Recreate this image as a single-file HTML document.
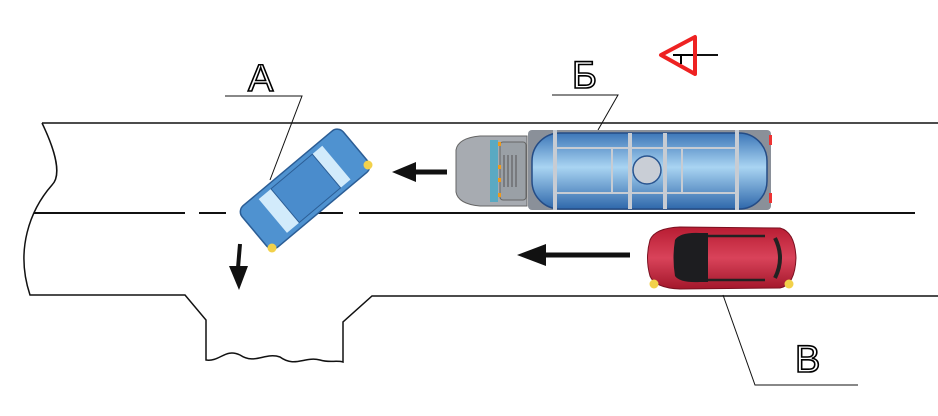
<!DOCTYPE html>
<html><head><meta charset="utf-8"><style>
html,body{margin:0;padding:0;background:#fff;width:938px;height:416px;overflow:hidden}
svg{display:block}
.lbl{font-family:"Liberation Sans",sans-serif;font-size:38px;fill:#fff;stroke:#000;stroke-width:1.6px}
</style></head><body>
<svg width="938" height="416" viewBox="0 0 938 416">
<defs>
<linearGradient id="tank" x1="0" y1="0" x2="0" y2="1">
<stop offset="0" stop-color="#3d77b8"/><stop offset="0.45" stop-color="#a9d4f2"/><stop offset="1" stop-color="#2f68ab"/></linearGradient>
<linearGradient id="red" x1="0" y1="0" x2="0" y2="1">
<stop offset="0" stop-color="#b81c32"/><stop offset="0.5" stop-color="#d9435a"/><stop offset="1" stop-color="#a3172b"/></linearGradient>
</defs>
<g fill="none" stroke="#111" stroke-width="1.5">
<line x1="42" y1="123" x2="938" y2="123"/>
<path d="M42,123 C55,150 62,175 52,185 C30,210 15,250 30,295 L185,295 L206,320 L206,360 C220,362 225,348 240,355 C255,365 265,352 280,357 C295,368 305,356 320,360 C330,363 336,360 343,362 L343,322 L372,296 L938,296"/>
<path d="M34,213 L185,213 M199,213 L226,213 M316,213 L343,213 M359,213 L915,213" stroke-width="2"/>
<path d="M225,96 L302,96 L270,180" stroke-width="1"/>
<path d="M552,95 L618,95 L598,130" stroke-width="1"/>
<path d="M723,295 L755,385 L858,385" stroke-width="1"/>
<line x1="697" y1="55" x2="718" y2="55" stroke-width="2"/>
</g>
<!-- sign -->
<path d="M661,55 L695,37 L695,74 Z" fill="#fff" stroke="#e22" stroke-width="4" stroke-linejoin="round"/>
<path d="M673,55 L693,55 M681,55 L681,64" stroke="#000" stroke-width="2"/>
<!-- labels -->
<text x="248" y="91" class="lbl">А</text>
<text x="572" y="88" class="lbl">Б</text>
<text x="795" y="372" class="lbl">В</text>
<!-- arrows -->
<path d="M447,172 L415,172" stroke="#111" stroke-width="5"/><path d="M392,172 L416,162 L416,182 Z" fill="#111"/>
<path d="M630,255 L545,255" stroke="#111" stroke-width="5"/><path d="M517,255 L546,244 L546,266 Z" fill="#111"/>
<path d="M240,244 L238,268" stroke="#111" stroke-width="4"/><path d="M229,266 L248,266 L239,290 Z" fill="#111"/>
<!-- truck -->
<g>
<rect x="528" y="130" width="243" height="80" rx="4" fill="#8a9099"/>
<rect x="532" y="133" width="235" height="76" rx="28" fill="url(#tank)" stroke="#244c86" stroke-width="1.5"/>
<g stroke="#c7ccd3" stroke-width="4"><line x1="555" y1="130" x2="555" y2="210"/><line x1="737" y1="130" x2="737" y2="210"/><line x1="630" y1="133" x2="630" y2="209"/><line x1="665" y1="133" x2="665" y2="209"/></g>
<g stroke="#c7ccd3" stroke-width="2"><line x1="555" y1="148" x2="737" y2="148"/><line x1="555" y1="193" x2="737" y2="193"/><line x1="612" y1="148" x2="612" y2="193"/><line x1="682" y1="148" x2="682" y2="193"/></g>
<circle cx="647" cy="170" r="14" fill="#c9ced6" stroke="#2a5590" stroke-width="1.5"/>
<path d="M456,150 Q458,138 480,136 L527,136 L527,206 L480,206 Q458,204 456,192 Z" fill="#a7abb1" stroke="#666" stroke-width="1"/>
<rect x="490" y="140" width="8" height="62" fill="#5aa9c2"/>
<rect x="500" y="142" width="26" height="58" rx="3" fill="#9aa0a6" stroke="#666"/>
<g stroke="#555" stroke-width="1"><line x1="504" y1="155" x2="504" y2="187"/><line x1="508" y1="155" x2="508" y2="187"/><line x1="512" y1="155" x2="512" y2="187"/><line x1="516" y1="155" x2="516" y2="187"/></g>
<g fill="#f09a1a"><rect x="498" y="142" width="3" height="4"/><rect x="498" y="165" width="3" height="4"/><rect x="498" y="178" width="3" height="4"/><rect x="498" y="193" width="3" height="4"/></g>
<rect x="769" y="135" width="3" height="10" fill="#e33"/><rect x="769" y="193" width="3" height="10" fill="#e33"/>
</g>
<!-- red car -->
<g>
<path d="M650,240 Q655,228 680,227 L780,228 Q795,232 796,258 Q795,285 780,288 L680,289 Q655,288 650,276 Q645,258 650,240 Z" fill="url(#red)" stroke="#7a1020" stroke-width="1"/>
<path d="M675,240 Q680,232 700,233 L708,233 L708,282 L700,282 Q680,283 675,276 Q672,258 675,240 Z" fill="#1d1d20"/>
<path d="M708,236 L765,236 M708,280 L765,280" stroke="#222" stroke-width="2.5"/>
<path d="M775,238 Q785,258 775,278" stroke="#222" stroke-width="4" fill="none"/>
<circle cx="654" cy="284" r="4.5" fill="#f2d14a"/><circle cx="789" cy="284" r="4.5" fill="#f2d14a"/>
</g>
<!-- blue car -->
<g transform="translate(305,189) rotate(-40)">
<rect x="-66" y="-27" width="132" height="54" rx="8" fill="#4f92d0" stroke="#2b5d95" stroke-width="1.5"/>
<rect x="-42" y="-22" width="16" height="44" fill="#d2ebfb"/>
<rect x="28" y="-22" width="13" height="44" fill="#d2ebfb"/>
<rect x="-26" y="-22" width="54" height="44" fill="#4a8ccc" stroke="#2b5d95"/>
</g>
<circle cx="368" cy="165" r="4.5" fill="#f2d14a"/><circle cx="272" cy="248" r="4.5" fill="#f2d14a"/>
</svg>
</body></html>
